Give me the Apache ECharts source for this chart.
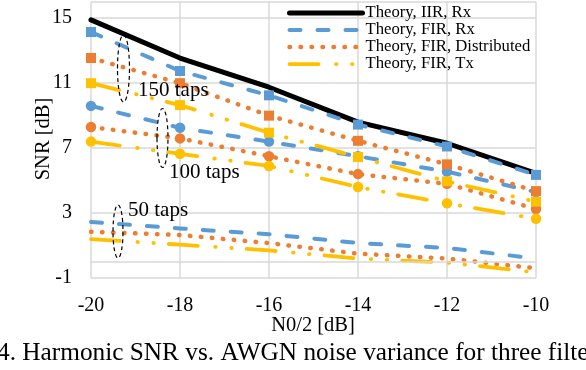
<!DOCTYPE html>
<html>
<head>
<meta charset="utf-8">
<script src="https://cdn.jsdelivr.net/npm/echarts@6/dist/echarts.min.js"></script>
<style>
html,body{margin:0;padding:0;background:#fff;}
#chart{width:586px;height:370px;}
</style>
</head>
<body>
<div id="chart"></div>
<script>
// ---- data ----
const noiseX = [-20, -18, -16, -14, -12, -10];
const yTicks = [-1, 3, 7, 11, 15];
const iirRx   = [14.9, 12.55, 10.75, 8.6, 7.3, 5.45];
const firRx150 = [14.15, 11.75, 10.25, 8.45, 7.1, 5.35];
const firRx100 = [9.6, 8.25, 7.4, 6.5, 5.55, 4.3];
const firRx50  = [2.45, 2.05, 1.7, 1.15, 0.85, 0.2];
const dist150 = [12.55, 11.0, 9.0, 7.45, 6.0, 4.35];
const dist100 = [8.3, 7.6, 6.5, 5.4, 4.8, 3.25];
const dist50  = [1.85, 1.65, 1.15, 0.5, 0.2, -0.4];
const tx150 = [11.0, 9.65, 7.95, 6.45, 4.95, 3.7];
const tx100 = [7.4, 6.65, 5.9, 4.6, 3.6, 2.65];
const tx50  = [1.4, 1.05, 0.7, 0.2, -0.05, -0.65];
const legendNames = ['Theory, IIR, Rx', 'Theory, FIR, Rx', 'Theory, FIR, Distributed', 'Theory, FIR, Tx'];
const tapLabels = ['150 taps', '100 taps', '50 taps'];
const yTitle = 'SNR [dB]';
const xTitle = 'N0/2 [dB]';
const caption = '4. Harmonic SNR vs. AWGN noise variance for three filters';

// ---- styles ----
const FONT = 'Liberation Serif';
const BLUE = '#5B9BD5', ORANGE = '#ED7D31', YELLOW = '#FFC000', BLACK = '#000000';
const styles = {
  iir:  { color: BLACK,  width: 5,   type: 'solid', cap: 'round' },
  rx:   { color: BLUE,   width: 4,   type: [11, 17], cap: 'round' },
  dist: { color: ORANGE, width: 4.5, type: [0.5, 10.5], cap: 'round' },
  tx:   { color: YELLOW, width: 3.8, type: [29, 17.5, 0.5, 15.5, 0.5, 15], cap: 'round' }
};
const zip = arr => noiseX.map((x, i) => [x, arr[i]]);

function lineSeries(name, arr, st, extra) {
  return Object.assign({
    type: 'line', name: name, data: zip(arr), symbol: 'none',
    lineStyle: { color: st.color, width: st.width, type: st.type, cap: st.cap, join: 'round' },
    itemStyle: { color: st.color },
    silent: true, z: 2
  }, extra || {});
}
function markerSeries(name, arr, color, symbol, z) {
  return {
    type: 'scatter', name: name, data: zip(arr), symbol: symbol,
    symbolSize: symbol === 'rect' ? 10 : 10.5,
    itemStyle: { color: color, opacity: 1 }, silent: true, z: z
  };
}

const series = [
  lineSeries(legendNames[0], iirRx, styles.iir, {
    markLine: {
      silent: true, symbol: 'none', label: { show: false }, animation: false,
      lineStyle: { color: '#D9D9D9', width: 1.5, type: 'solid' },
      data: [{ yAxis: 0 }]
    }
  }),
  lineSeries(legendNames[1], firRx150, styles.rx),
  lineSeries('rx100', firRx100, styles.rx),
  lineSeries('rx50', firRx50, styles.rx),
  lineSeries(legendNames[2], dist150, styles.dist),
  lineSeries('dist100', dist100, styles.dist),
  lineSeries('dist50', dist50, styles.dist),
  lineSeries(legendNames[3], tx150, styles.tx),
  lineSeries('tx100', tx100, styles.tx),
  lineSeries('tx50', tx50, styles.tx),
  markerSeries('m_rx100', firRx100, BLUE, 'circle', 3),
  markerSeries('m_dist100', dist100, ORANGE, 'circle', 3),
  markerSeries('m_tx100', tx100, YELLOW, 'circle', 3),
  markerSeries('m_rx150', firRx150, BLUE, 'rect', 4),
  markerSeries('m_dist150', dist150, ORANGE, 'rect', 4),
  markerSeries('m_tx150', tx150, YELLOW, 'rect', 4)
];

const legendKeys = ['iir', 'rx', 'dist', 'tx'];
const legendData = legendNames.map((n, i) => {
  const st = styles[legendKeys[i]];
  return {
    name: n,
    itemStyle: { opacity: 0 },
    lineStyle: { color: st.color, width: st.width, type: st.type, cap: st.cap }
  };
});

const chart = echarts.init(document.getElementById('chart'), null, { renderer: 'canvas' });
const gridLine = { show: true, lineStyle: { color: '#D9D9D9', width: 1.5 } };

chart.setOption({
  animation: false,
  backgroundColor: '#fff',
  textStyle: { fontFamily: FONT },
  grid: { left: 91, right: 50, top: 2, bottom: 92, containLabel: false },
  xAxis: {
    type: 'value', min: noiseX[0], max: noiseX[noiseX.length - 1], interval: 2,
    axisLine: { show: false }, axisTick: { show: false },
    splitLine: gridLine,
    axisLabel: { color: '#000', fontFamily: FONT, fontSize: 20, margin: 17.5 }
  },
  yAxis: {
    type: 'value', min: yTicks[0], max: 16, interval: 4,
    axisLine: { show: false }, axisTick: { show: false },
    splitLine: gridLine,
    axisLabel: {
      color: '#000', fontFamily: FONT, fontSize: 20, margin: 19,
      showMaxLabel: false,
      formatter: v => (yTicks.indexOf(v) >= 0 ? String(v) : '')
    }
  },
  legend: {
    show: true, orient: 'vertical', left: 287, top: 4.6, padding: 0,
    itemWidth: 73, itemHeight: 12, itemGap: 0,
    selectedMode: false,
    textStyle: { color: '#000', fontFamily: FONT, fontSize: 16.7, lineHeight: 16.7, padding: [0, 0, 0, -2] },
    data: legendData
  },
  graphic: [
    { type: 'ellipse', silent: true, shape: { cx: 123.5, cy: 68.5, rx: 6, ry: 33.5 },
      style: { fill: 'none', stroke: '#000', lineWidth: 1.2, lineDash: [4, 3] }, z: 100 },
    { type: 'ellipse', silent: true, shape: { cx: 162.5, cy: 138, rx: 5.5, ry: 29.5 },
      style: { fill: 'none', stroke: '#000', lineWidth: 1.2, lineDash: [4, 3] }, z: 100 },
    { type: 'ellipse', silent: true, shape: { cx: 118, cy: 231.5, rx: 5, ry: 26.5 },
      style: { fill: 'none', stroke: '#000', lineWidth: 1.2, lineDash: [4, 3] }, z: 100 },
    { type: 'text', silent: true, left: 138, top: 80, z: 100,
      style: { text: tapLabels[0], fill: '#000', font: '21px "Liberation Serif"' } },
    { type: 'text', silent: true, left: 169, top: 162, z: 100,
      style: { text: tapLabels[1], fill: '#000', font: '21px "Liberation Serif"' } },
    { type: 'text', silent: true, left: 128, top: 200, z: 100,
      style: { text: tapLabels[2], fill: '#000', font: '21px "Liberation Serif"' } },
    { type: 'text', silent: true, x: 44, y: 139, rotation: Math.PI / 2, z: 100,
      style: { text: yTitle, fill: '#000', font: '20.5px "Liberation Serif"', align: 'center', verticalAlign: 'middle' } },
    { type: 'text', silent: true, x: 313, y: 325.5, z: 100,
      style: { text: xTitle, fill: '#000', font: '20.5px "Liberation Serif"', align: 'center', verticalAlign: 'middle' } },
    { type: 'text', silent: true, x: -3, y: 353.5, z: 100,
      style: { text: caption, fill: '#000', font: '25.3px "Liberation Serif"', verticalAlign: 'middle' } }
  ],
  series: series
});
</script>
</body>
</html>
